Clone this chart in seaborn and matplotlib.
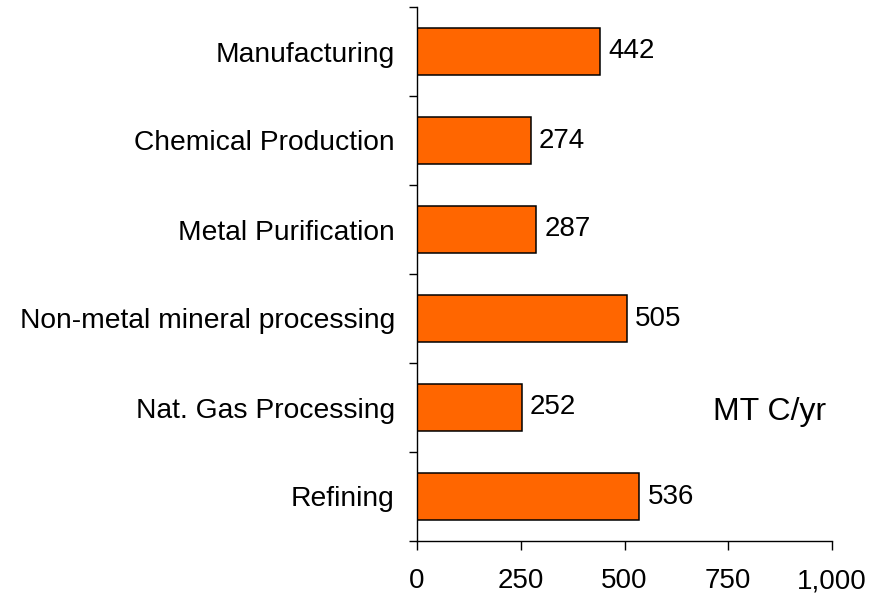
import matplotlib
matplotlib.use("Agg")
import matplotlib.pyplot as plt
import seaborn as sns
import pandas as pd

categories = ["Manufacturing", "Chemical Production", "Metal Purification",
              "Non-metal mineral processing", "Nat. Gas Processing", "Refining"]
values = [442, 274, 287, 505, 252, 536]
x_ticks = [0, 250, 500, 750, 1000]
x_tick_labels = ["0", "250", "500", "750", "1,000"]
unit_label = "MT C/yr"

sns.set_theme(style="white")
plt.rcParams["font.family"] = ["Liberation Sans", "DejaVu Sans"]
plt.rcParams["text.color"] = "black"
plt.rcParams["xtick.color"] = "black"
plt.rcParams["ytick.color"] = "black"

df = pd.DataFrame({"sector": categories, "emissions": values})

fig = plt.figure(figsize=(8.81, 5.95), dpi=100)
ax = fig.add_axes([417 / 881, 1 - 541 / 595, 415 / 881, 534 / 595])

sns.barplot(data=df, y="sector", x="emissions", orient="h", order=categories,
            color="#FF6600", saturation=1, width=0.52,
            edgecolor="black", linewidth=1.1, ax=ax)

ax.set_xlim(0, 1000)
ax.set_ylim(len(categories) - 0.5, -0.5)

# value labels at bar ends
for bar, v in zip(ax.patches, values):
    ax.annotate(f"{v}", (bar.get_width(), bar.get_y() + bar.get_height() / 2),
                xytext=(6, 0), textcoords="offset points",
                va="center", ha="left", fontsize=20, color="black")

# separators between categories as major ticks, names as minor ticks
n = len(categories)
ax.set_yticks([i - 0.5 for i in range(n + 1)])
ax.set_yticklabels([])
ax.set_yticks(list(range(n)), minor=True)
ax.set_yticklabels(categories, minor=True, fontsize=20.3, color="black")
ax.tick_params(axis="y", which="major", length=6, width=1, color="black", left=True)
ax.tick_params(axis="y", which="minor", length=0, pad=16, left=False)

ax.set_xticks(x_ticks)
ax.set_xticklabels(x_tick_labels, fontsize=20, color="black")
ax.tick_params(axis="x", length=6.5, width=1, color="black", bottom=True, pad=13)

ax.set_xlabel("")
ax.set_ylabel("")

for side in ["top", "right"]:
    ax.spines[side].set_visible(False)
for side in ["left", "bottom"]:
    ax.spines[side].set_color("black")
    ax.spines[side].set_linewidth(1)

ax.text(0.85, 0.2416, unit_label, transform=ax.transAxes, ha="center", va="center",
        fontsize=23, color="black")

fig.savefig("out.png", dpi=100, facecolor="white")
